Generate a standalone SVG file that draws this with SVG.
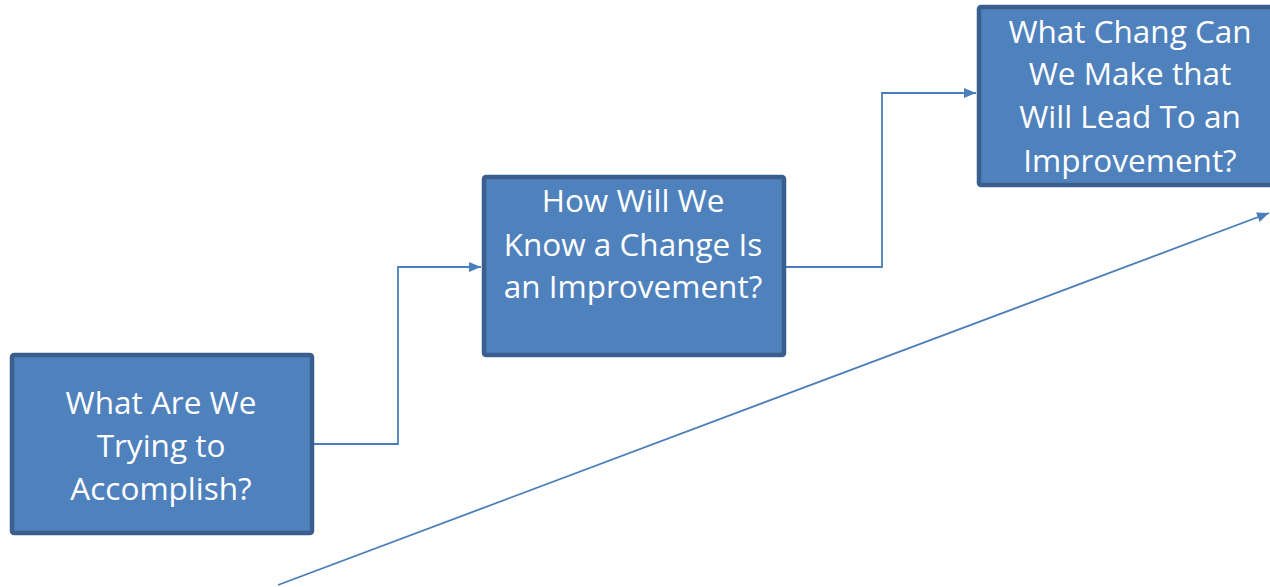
<svg xmlns="http://www.w3.org/2000/svg" width="1270" height="587" viewBox="0 0 1270 587">
<style>
.box{fill:#4F81BD;stroke:#3A5F8E;stroke-width:4.5}
.lbl{font-family:"Open Sans","Liberation Sans",sans-serif;font-size:31.5px;fill:#FFFFFF;text-anchor:middle}
.con{fill:none;stroke:#4A7EBB;stroke-width:1.8}
</style>
<defs>
<marker id="arr" viewBox="0 0 12 10" refX="12" refY="5" markerWidth="12" markerHeight="10" markerUnits="userSpaceOnUse" orient="auto">
<path d="M0,0 L12,5 L0,10 Z" fill="#4A7EBB"/>
</marker>
</defs>
<rect width="1270" height="587" fill="#FFFFFF"/>
<g id="connectors">
<path class="con" d="M314,444 H398 V267 H481" marker-end="url(#arr)"/>
<path class="con" d="M786,267 H882 V93 H976" marker-end="url(#arr)"/>
<path class="con" d="M278,585 L1269,213" marker-end="url(#arr)"/>
</g>
<g id="node1">
<rect class="box" x="12" y="355" width="300" height="178" rx="2"/>
<text class="lbl" x="161" y="414">What Are We</text>
<text class="lbl" x="161" y="457">Trying to</text>
<text class="lbl" x="161" y="500">Accomplish?</text>
</g>
<g id="node2">
<rect class="box" x="484" y="177" width="300" height="178" rx="2"/>
<text class="lbl" x="633" y="212">How Will We</text>
<text class="lbl" x="633" y="256">Know a Change Is</text>
<text class="lbl" x="633" y="298">an Improvement?</text>
</g>
<g id="node3">
<rect class="box" x="979" y="7" width="300" height="178" rx="2"/>
<text class="lbl" x="1130" y="43">What Chang Can</text>
<text class="lbl" x="1130" y="85">We Make that</text>
<text class="lbl" x="1130" y="128">Will Lead To an</text>
<text class="lbl" x="1130" y="172">Improvement?</text>
</g>
</svg>
